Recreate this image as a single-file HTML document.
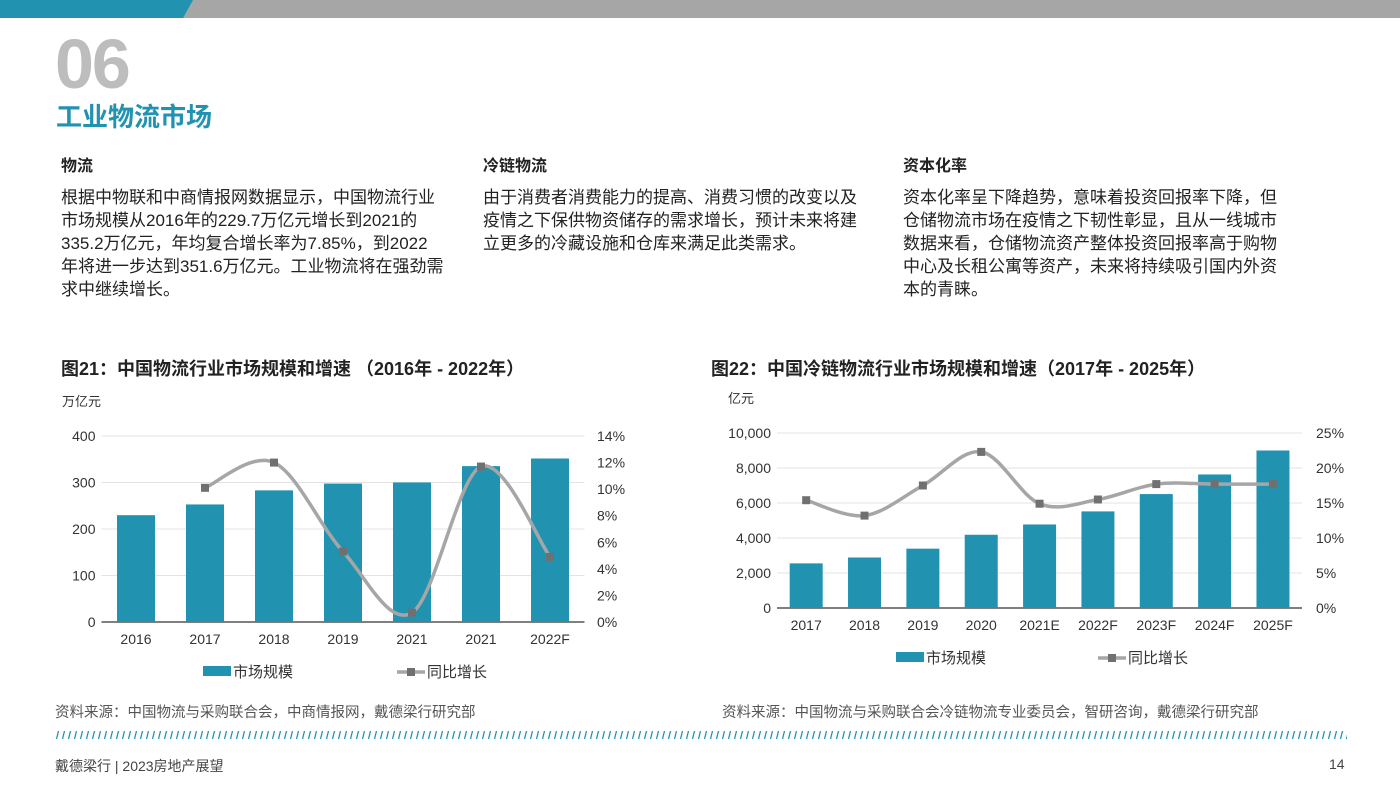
<!DOCTYPE html>
<html><head><meta charset="utf-8">
<style>
body{margin:0;width:1400px;height:788px;position:relative;background:#fff;font-family:"Liberation Sans","Noto Sans CJK SC",sans-serif;overflow:hidden;color:#222}
.abs{position:absolute}
.h{font-size:16px;font-weight:bold;color:#222}
.p{font-size:17px;line-height:23px;color:#222;white-space:nowrap}
.ct{font-size:18px;font-weight:bold;color:#222;white-space:nowrap}
.src{font-size:14.5px;color:#555;white-space:nowrap}
</style></head><body>
<svg class="abs" style="left:0;top:0" width="1400" height="20">
<rect x="0" y="0" width="1400" height="18" fill="#a6a6a6"/>
<polygon points="0,0 193,0 183,18 0,18" fill="#2193b0"/>
</svg>
<div class="abs" style="left:55px;top:24px;font-size:70px;font-weight:bold;color:#bdbdbd;letter-spacing:-2px">06</div>
<div class="abs" style="left:56px;top:97px;font-size:26px;font-weight:bold;color:#2193b0">工业物流市场</div>

<div class="abs h" style="left:61px;top:152px">物流</div>
<div class="abs p" style="left:61px;top:186px">根据中物联和中商情报网数据显示，中国物流行业<br>市场规模从2016年的229.7万亿元增长到2021的<br>335.2万亿元，年均复合增长率为7.85%，到2022<br>年将进一步达到351.6万亿元。工业物流将在强劲需<br>求中继续增长。</div>
<div class="abs h" style="left:483px;top:152px">冷链物流</div>
<div class="abs p" style="left:483px;top:186px">由于消费者消费能力的提高、消费习惯的改变以及<br>疫情之下保供物资储存的需求增长，预计未来将建<br>立更多的冷藏设施和仓库来满足此类需求。</div>
<div class="abs h" style="left:903px;top:152px">资本化率</div>
<div class="abs p" style="left:903px;top:186px">资本化率呈下降趋势，意味着投资回报率下降，但<br>仓储物流市场在疫情之下韧性彰显，且从一线城市<br>数据来看，仓储物流资产整体投资回报率高于购物<br>中心及长租公寓等资产，未来将持续吸引国内外资<br>本的青睐。</div>

<div class="abs ct" style="left:61px;top:355px">图21：中国物流行业市场规模和增速 （2016年 - 2022年）</div>
<div class="abs ct" style="left:711px;top:355px">图22：中国冷链物流行业市场规模和增速（2017年 - 2025年）</div>

<svg class="abs" id="c1" style="left:0;top:0" width="700" height="700"></svg>
<svg class="abs" id="c2" style="left:700px;top:0" width="700" height="700"></svg>

<div class="abs src" style="left:55px;top:701px">资料来源：中国物流与采购联合会，中商情报网，戴德梁行研究部</div>
<div class="abs src" style="left:722px;top:701px">资料来源：中国物流与采购联合会冷链物流专业委员会，智研咨询，戴德梁行研究部</div>
<svg class="abs" style="left:55px;top:730px" width="1292" height="10">
<defs><pattern id="sl" width="6" height="10" patternUnits="userSpaceOnUse"><line x1="1.5" y1="9" x2="3.5" y2="1" stroke="#2193b0" stroke-width="1.3"/></pattern></defs>
<rect width="1292" height="10" fill="url(#sl)"/></svg>
<div class="abs" style="left:55px;top:756px;font-size:14px;color:#444">戴德梁行 | 2023房地产展望</div>
<div class="abs" style="left:1329px;top:756px;font-size:14px;color:#444">14</div>

<script>
const cats1=["2016","2017","2018","2019","2021","2021","2022F"];
const size1=[229.7,252.8,283.1,297.7,300.1,335.2,351.6];
const growth1=[null,10.1,12.0,5.3,0.7,11.7,4.9];
const leftTicks1=[0,100,200,300,400];
const rightTicks1=[0,2,4,6,8,10,12,14];

const cats2=["2017","2018","2019","2020","2021E","2022F","2023F","2024F","2025F"];
const size2=[2550,2886,3391,4185,4773,5520,6510,7630,9000];
const growth2=[15.4,13.2,17.5,22.3,14.9,15.5,17.7,17.7,17.7];
const leftTicks2=[0,2000,4000,6000,8000,10000];
const rightTicks2=[0,5,10,15,20,25];

const NS="http://www.w3.org/2000/svg";
function mk(svg,tag,attrs,txt){const e=document.createElementNS(NS,tag);for(const k in attrs)e.setAttribute(k,attrs[k]);if(txt!==undefined)e.textContent=txt;svg.appendChild(e);return e;}
function smooth(pts){let d="M"+pts[0][0]+","+pts[0][1];for(let i=0;i<pts.length-1;i++){const p0=pts[i-1]||pts[i],p1=pts[i],p2=pts[i+1],p3=pts[i+2]||p2;const c1=[p1[0]+(p2[0]-p0[0])/6,p1[1]+(p2[1]-p0[1])/6],c2=[p2[0]-(p3[0]-p1[0])/6,p2[1]-(p3[1]-p1[1])/6];d+=" C"+c1+" "+c2+" "+p2;}return d;}
function draw(cfg){
 const s=document.getElementById(cfg.id);
 const x=i=>cfg.x0+cfg.step*(i+0.5);
 const yL=v=>cfg.yb-(v/cfg.lmax)*(cfg.yb-cfg.yt);
 const yR=v=>cfg.yb-(v/cfg.rmax)*(cfg.yb-cfg.yt);
 mk(s,"text",{x:cfg.unitX,y:cfg.yt-30,"font-size":13,fill:"#333"},cfg.unit);
 cfg.lt.forEach(t=>{
  const g=mk(s,"line",{x1:cfg.x0,x2:cfg.x1,y1:yL(t),y2:yL(t),stroke:t===0?"#333":"#e3e3e3","stroke-width":t===0?1.2:1});
  
  
  const tx=mk(s,"text",{x:cfg.x0-6,y:yL(t)+5,"font-size":14,fill:"#333","text-anchor":"end"},cfg.fmt(t));
  
  
 });
 cfg.rt.forEach(t=>{
  const tx=mk(s,"text",{x:cfg.rx,y:yR(t)+5,"font-size":14,fill:"#333"},t+"%");
  
  
 });
 cfg.cats.forEach((c,i)=>{
  const b=mk(s,"rect",{x:x(i)-cfg.bw/2,y:yL(cfg.size[i]),width:cfg.bw,height:cfg.yb-yL(cfg.size[i]),fill:"#2193b0"});
  
  
  const t=mk(s,"text",{x:x(i),y:cfg.yb+22,"font-size":14,fill:"#333","text-anchor":"middle"},c);
  
  
 });
 const pts=[];cfg.growth.forEach((v,i)=>{if(v!==null)pts.push([x(i),yR(v)]);});
 const ln=mk(s,"path",{d:smooth(pts),fill:"none",stroke:"#a6a6a6","stroke-width":3.5});
 
 
 pts.forEach(p=>{const m=mk(s,"rect",{x:p[0]-4,y:p[1]-4,width:8,height:8,fill:"#707070"});
  
  });
 const ly=cfg.yb+50;
 const l1=mk(s,"rect",{x:cfg.lg1,y:ly-6,width:28,height:10,fill:"#2193b0"});
 
 
 mk(s,"text",{x:cfg.lg1+30,y:ly+5,"font-size":15,fill:"#333"},"市场规模");
 const l2=mk(s,"line",{x1:cfg.lg2,x2:cfg.lg2+28,y1:ly,y2:ly,stroke:"#a6a6a6","stroke-width":3.5});
 
 
 mk(s,"rect",{x:cfg.lg2+10,y:ly-4,width:8,height:8,fill:"#707070"});
 mk(s,"text",{x:cfg.lg2+30,y:ly+5,"font-size":15,fill:"#333"},"同比增长");
}
draw({id:"c1",x0:101.5,x1:584.5,step:69,yt:436,yb:622,lmax:400,rmax:14,bw:38,lt:leftTicks1,rt:rightTicks1,cats:cats1,size:size1,growth:growth1,fmt:t=>t,rx:597,unit:"万亿元",unitX:62,lg1:203,lg2:397});
draw({id:"c2",x0:77,x1:602,step:58.35,yt:433,yb:608,lmax:10000,rmax:25,bw:33,lt:leftTicks2,rt:rightTicks2,cats:cats2,size:size2,growth:growth2,fmt:t=>t.toLocaleString("en-US"),rx:616,unit:"亿元",unitX:28,lg1:196,lg2:398});
</script>
</body></html>
